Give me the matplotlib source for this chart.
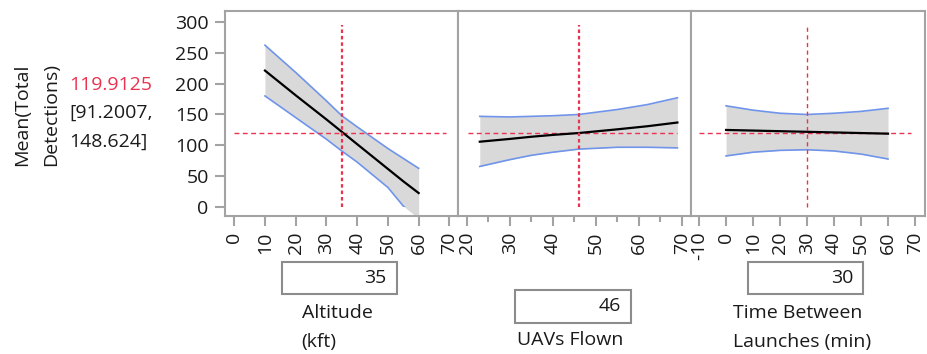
import numpy as np
import matplotlib
matplotlib.use("Agg")
import matplotlib.pyplot as plt
from matplotlib.patches import Rectangle

plt.rcParams['font.family'] = ['Open Sans', 'DejaVu Sans']

# ---------------- data ----------------
predicted = 119.9125
ci_text = ["[91.2007,", "148.624]"]
y_label = ["Mean(Total", "Detections)"]
y_ticks = [0, 50, 100, 150, 200, 250, 300]

# Altitude (kft)
alt_x = [10, 20, 30, 35, 40, 50, 55, 60]
alt_mean = [221, 181, 142, 122, 102, 62, 42, 23]
alt_upper = [262, 218, 172, 148, 130, 95, 79, 63]
alt_lower = [180, 145, 110, 91, 73, 32, 2, -18]
alt_current = 35
alt_ticks = [0, 10, 20, 30, 40, 50, 60, 70]
alt_hline = [0, 69]

# UAVs Flown
uav_x = [23, 30, 35, 40, 46, 55, 62, 69]
uav_mean = [106, 110.5, 114, 117, 120, 126, 131, 137]
uav_upper = [147, 146, 147, 148, 150, 158, 166, 177]
uav_lower = [66, 77, 84, 89, 94, 97, 97, 96]
uav_current = 46
uav_ticks = [20, 30, 40, 50, 60, 70]
uav_minor = [25, 35, 45, 55, 65]
uav_hline = [20.2, 69]

# Time Between Launches (min)
tbl_x = [0, 10, 20, 30, 40, 50, 60]
tbl_mean = [125, 124, 123, 122, 121, 120, 119]
tbl_upper = [164, 157, 152, 150, 152, 155, 160]
tbl_lower = [83, 89, 92, 93, 91, 86, 78]
tbl_current = 30
tbl_ticks = [-10, 0, 10, 20, 30, 40, 50, 60, 70]
tbl_hline = [-10, 68.6]

factor_lines = [["Altitude", "(kft)"], ["UAVs Flown"], ["Time Between", "Launches (min)"]]
factor_values = ["35", "46", "30"]

# ---------------- styling ----------------
W, H = 927, 354
RED = '#ea3350'
BLUE = '#6f94ea'
FILL = '#d9d9d9'
SPINE = '#a3a3a3'
TXT = '#1a1a1a'
FS = 14

fig = plt.figure(figsize=(W / 100, H / 100), dpi=100)

def fx(px):
    return px / W

def fy(py):
    return 1 - py / H

top, bot = 11, 216
panels = [(224.7, 458.3), (458.3, 690.7), (690.7, 925.0)]
xlims = [(-3.1, 72.9), (18.0, 72.1), (-13.1, 73.7)]
ylim = (-14.1, 317.3)

datasets = [
    (alt_x, alt_mean, alt_upper, alt_lower, alt_current, alt_ticks, None, alt_hline, True),
    (uav_x, uav_mean, uav_upper, uav_lower, uav_current, uav_ticks, uav_minor, uav_hline, True),
    (tbl_x, tbl_mean, tbl_upper, tbl_lower, tbl_current, tbl_ticks, None, tbl_hline, False),
]

for i, ((l, r), xl, d) in enumerate(zip(panels, xlims, datasets)):
    xs, mean, up, lo, cur, ticks, minor, hl, thick = d
    ax = fig.add_axes([fx(l), fy(bot), fx(r - l), (bot - top) / H])
    ax.set_xlim(*xl)
    ax.set_ylim(*ylim)
    ax.fill_between(xs, lo, up, color=FILL, lw=0, zorder=1)
    ax.plot(xs, up, color=BLUE, lw=1.2, zorder=2)
    ln, = ax.plot(xs, lo, color=BLUE, lw=1.2, zorder=2)
    clip = Rectangle((xl[0], 0), xl[1] - xl[0], ylim[1], transform=ax.transData)
    ln.set_clip_path(clip)
    ax.plot(xs, mean, color='black', lw=1.6, zorder=4)
    ax.plot(hl, [predicted, predicted], color=RED, lw=1.0, ls=(0, (3.5, 2.5)), zorder=3)
    if thick:
        ax.plot([cur, cur], [0, 295], color=RED, lw=1.6, ls=(0, (1.6, 1.3)), zorder=5)
    else:
        ax.plot([cur, cur], [0, 295], color=RED, lw=1.0, ls=(0, (3.0, 2.5)), zorder=5)

    for s in ax.spines.values():
        s.set_color(SPINE)
        s.set_linewidth(1.5)
    ax.set_xticks(ticks)
    ax.set_xticklabels([str(t) for t in ticks], rotation=90, fontsize=FS, color=TXT)
    if minor:
        ax.set_xticks(minor, minor=True)
        ax.tick_params(axis='x', which='minor', length=4, width=1.5, color=SPINE)
    ax.tick_params(axis='x', which='major', length=7.5, width=1.5, color=SPINE, pad=3.5)
    if i == 0:
        ax.set_yticks(y_ticks)
        ax.set_yticklabels([str(t) for t in y_ticks], fontsize=FS, color=TXT)
        ax.tick_params(axis='y', length=7.5, width=1.5, color=SPINE, pad=4)
    else:
        ax.set_yticks([])

# left labels
fig.text(fx(22), fy(166), y_label[0], rotation=90, ha='center', va='bottom', fontsize=FS, color=TXT)
fig.text(fx(51), fy(166), y_label[1], rotation=90, ha='center', va='bottom', fontsize=FS, color=TXT)
fig.text(fx(69), fy(85), f"{predicted:.4f}", ha='left', va='center', fontsize=FS, color=RED)
fig.text(fx(69), fy(113), ci_text[0], ha='left', va='center', fontsize=FS, color=TXT)
fig.text(fx(69), fy(142), ci_text[1], ha='left', va='center', fontsize=FS, color=TXT)

# value boxes
boxes = [(281.7, 396.7, 261.7, 294.3), (515.0, 631.0, 290.0, 322.7), (748.3, 863.3, 261.7, 294.3)]
label_pos = [(301.7, [313, 341.7]), (516.7, [340]), (733.3, [313, 341.7])]
for (x0, x1, y0, y1), val, (lx, lys), lines in zip(boxes, factor_values, label_pos, factor_lines):
    fig.patches.append(Rectangle((fx(x0), fy(y1)), fx(x1 - x0), (y1 - y0) / H,
                                 transform=fig.transFigure, facecolor='white',
                                 edgecolor='#8c8c8c', lw=1.5))
    fig.text(fx(x1 - 10), fy((y0 + y1) / 2), val, ha='right', va='center', fontsize=FS, color=TXT)
    for ly, t in zip(lys, lines):
        fig.text(fx(lx), fy(ly), t, ha='left', va='center', fontsize=FS, color=TXT)

fig.savefig('out.png', dpi=100, facecolor='white')
